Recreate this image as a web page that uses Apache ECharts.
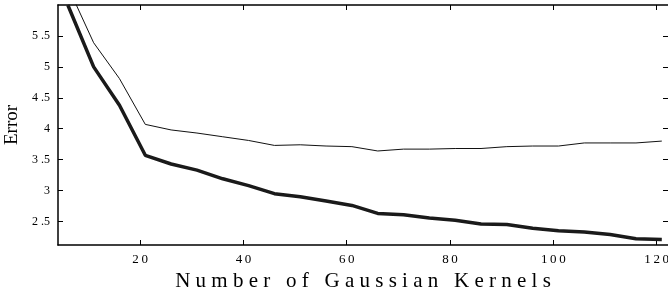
<!DOCTYPE html>
<html>
<head>
<meta charset="utf-8">
<script src="https://cdn.jsdelivr.net/npm/echarts@6/dist/echarts.min.js"></script>
<style>
  html, body { margin: 0; padding: 0; background: #fff; }
  #chart { width: 668px; height: 288px; }
</style>
</head>
<body>
<div id="chart"></div>
<script>
// number of kernels (x) and the two error curves
const kernels = [6, 11, 16, 21, 26, 31, 36, 41, 46, 51, 56, 61, 66, 71, 76, 81, 86, 91, 96, 101, 106, 111, 116, 121];
const errorThin = [6.3, 5.39, 4.81, 4.07, 3.98, 3.93, 3.87, 3.81, 3.73, 3.74, 3.72, 3.71, 3.64, 3.67, 3.67, 3.68, 3.68, 3.71, 3.72, 3.72, 3.77, 3.77, 3.77, 3.80];
const errorThick = [6.0, 5.0, 4.38, 3.57, 3.43, 3.33, 3.19, 3.08, 2.95, 2.90, 2.83, 2.76, 2.63, 2.61, 2.555, 2.52, 2.46, 2.45, 2.39, 2.35, 2.33, 2.29, 2.22, 2.21];
const xTicks = [20, 40, 60, 80, 100, 120];
const yTicks = [2.5, 3, 3.5, 4, 4.5, 5, 5.5];

const serif = '"Liberation Serif", "DejaVu Serif", serif';

// spread characters apart like the old printout
const spread = (s, gap) => s.split(' ').map(w => w.split('').join(gap)).join(gap + ' ' + gap);

const pairs = ys => kernels.map((k, i) => [k, ys[i]]);

const chart = echarts.init(document.getElementById('chart'), null, { renderer: 'canvas' });

const tick = { show: true, inside: true, length: 5, lineStyle: { color: '#000', width: 1 } };
const axisLine = { show: true, onZero: false, lineStyle: { color: '#000', width: 1.5 } };

chart.setOption({
  animation: false,
  backgroundColor: '#fff',
  grid: { left: 58, top: 5, right: 0, bottom: 43, containLabel: false, outerBoundsMode: 'none' },
  xAxis: [
    {
      type: 'value', min: 4.1, max: 122.2, position: 'bottom',
      axisLine, splitLine: { show: false },
      axisTick: { ...tick, customValues: xTicks },
      axisLabel: {
        customValues: xTicks, margin: 8, color: '#000', fontFamily: serif, fontSize: 13,
        formatter: v => String(v).split('').join('\u2009'),
      },
      name: spread('Number of Gaussian Kernels', '\u2005'),
      nameLocation: 'middle', nameGap: 24,
      nameTextStyle: { color: '#000', fontFamily: serif, fontSize: 21 },
    },
    {
      type: 'value', min: 4.1, max: 122.2, position: 'top',
      axisLine, splitLine: { show: false },
      axisTick: { ...tick, customValues: xTicks },
      axisLabel: { show: false },
    },
  ],
  yAxis: [
    {
      type: 'value', min: 2.12, max: 6.0, position: 'left',
      axisLine, splitLine: { show: false },
      axisTick: { ...tick, customValues: yTicks },
      axisLabel: {
        customValues: yTicks, margin: 8, color: '#000', fontFamily: serif, fontSize: 12,
        formatter: v => String(v).replace('.', ' .'),
      },
      name: 'Error', nameLocation: 'middle', nameGap: 30,
      nameTextStyle: { color: '#000', fontFamily: serif, fontSize: 19 },
    },
    {
      // right edge falls at the picture border: only its ticks show
      type: 'value', min: 2.12, max: 6.0, position: 'right',
      axisLine: { show: false }, splitLine: { show: false },
      axisTick: { ...tick, customValues: yTicks },
      axisLabel: { show: false },
    },
  ],
  series: [
    {
      type: 'line', data: pairs(errorThin), showSymbol: false, clip: true,
      lineStyle: { color: '#111', width: 1 },
    },
    {
      type: 'line', data: pairs(errorThick), showSymbol: false, clip: true,
      lineStyle: { color: '#1a1a1a', width: 3.5 },
    },
  ],
});
</script>
</body>
</html>
